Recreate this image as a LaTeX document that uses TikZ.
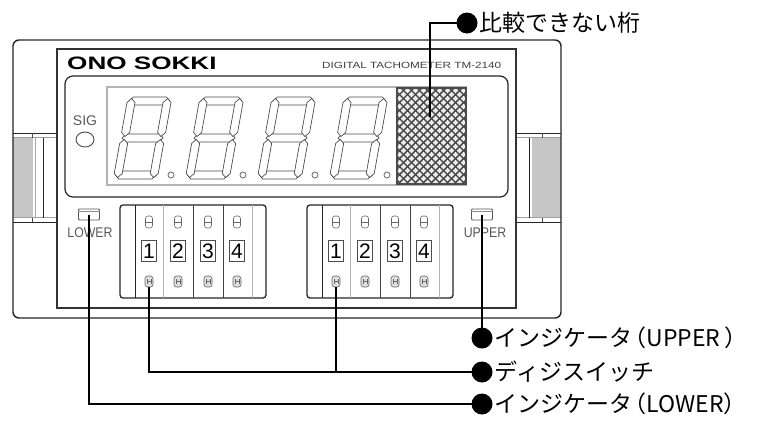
\documentclass[tikz,border=0pt]{standalone}
\usepackage{fontspec}
\setmainfont{Liberation Sans}
\newfontfamily\jpfont{Noto Sans CJK JP}
\newcommand\hseg[1]{\draw[seg] (1.5,#1) -- (5.5,#1-4) -- (38.5,#1-4) -- (42.5,#1) -- (38.5,#1+4) -- (5.5,#1+4) -- cycle;}
\newcommand\vseg[3]{\draw[seg] (#1,#2+1.5) -- (#1+4,#2+5.5) -- (#1+4,#3-5.5) -- (#1,#3-1.5) -- (#1-4,#3-5.5) -- (#1-4,#2+5.5) -- cycle;}
\newcommand\segdigit[1]{%
  \begin{scope}[shift={#1}, xslant=0.18]
    \hseg{4}\hseg{41}\hseg{78}
    \vseg{4}{0}{41}\vseg{40}{0}{41}\vseg{4}{41}{82}\vseg{40}{41}{82}
  \end{scope}}
\newcommand\thumbsw[2]{%
  \draw[line width=1.3, black!85, rounded corners=3] (#1,205) rectangle (#1+146,298);
  \foreach \dx/\c in {15/black!85, 43/gray!60, 73/black!75, 103/black!75, 132/gray!60}
    \draw[\c, line width=0.9] (#1+\dx,205) -- (#1+\dx,298);
  \foreach \k [count=\i] in {29,58,88,117} {
    \draw[black!60, line width=0.6, rounded corners=2.5] (#1+\k-3.5,216) rectangle (#1+\k+3.5,228);
    \draw[black!60, line width=0.6] (#1+\k-3.5,222) -- (#1+\k+3.5,222);
    \node[draw=black!70, line width=0.8, fill=white, minimum width=15pt, minimum height=21pt, inner sep=0pt,
          font=\fontsize{21}{21}\selectfont] (#2d\i) at (#1+\k,251) {\i};
    \draw[black!60, line width=0.6, fill=gray!25, rounded corners=2.5] (#1+\k-4,276) rectangle (#1+\k+4,287);
    \draw[black!60, line width=0.4] (#1+\k-2,279) -- (#1+\k-2,284) (#1+\k+2,279) -- (#1+\k+2,284) (#1+\k-2,281.5) -- (#1+\k+2,281.5);
  }}
\begin{document}
\begin{tikzpicture}[x=1pt,y=-1pt,
  seg/.style={draw=black!70, line width=0.7, fill=white},
  lead/.style={draw=black, line width=1.1},
  bigdot/.style={circle, fill=black, minimum size=21pt, inner sep=0pt},
  lbl/.style={font=\jpfont\fontsize{23}{23}\selectfont, anchor=west, inner sep=0pt, xshift=2pt},
  ledbox/.style={draw=black!65, line width=0.8, minimum width=21pt, minimum height=11pt, inner sep=0pt, rounded corners=1pt},
  smalltxt/.style={text=black!65, font=\fontsize{14}{14}\selectfont, inner sep=0pt}]
\useasboundingbox (0,0) rectangle (760,421);
\fill[white] (0,0) rectangle (760,421);

% side brackets
\fill[gray!45] (13,137.5) rectangle (33,217.5);
\fill[gray!45] (532,137.5) rectangle (561,217.5);
\draw[black!85, line width=1] (13,133) -- (57,133) (13,222) -- (57,222) (516,133) -- (561,133) (516,222) -- (561,222);
\draw[gray!75, line width=1] (13,137.5) -- (57,137.5) (13,217.5) -- (57,217.5) (516,137.5) -- (561,137.5) (516,217.5) -- (561,217.5);
\draw[gray!70, line width=1] (35,137.5) -- (35,217.5);
\draw[black!85, line width=1] (43,137.5) -- (43,217.5) (529,137.5) -- (529,217.5);
\draw[black!70, line width=0.8] (32,133) -- (32,137.5) (32,217.5) -- (32,222) (542,133) -- (542,137.5) (542,217.5) -- (542,222);

% case
\draw[black!85, line width=1.4, rounded corners=6] (13,40) rectangle (561,318);
\draw[black!80, line width=1.2] (57,49) rectangle (516,308);
\draw[black!85, line width=1.2, rounded corners=8] (65,76) rectangle (508,197);
\draw[gray!60, line width=1.5] (107,87) rectangle (466,185);

% logo and model
\node[anchor=west, inner sep=0pt, font=\bfseries\fontsize{18}{18}\selectfont] (logo) at (67,63) {\scalebox{1.45}[1]{ONO SOKKI}};
\node[anchor=west, inner sep=0pt, text=black!75, font=\fontsize{9}{9}\selectfont] (model) at (322,65) {\scalebox{1.3}[1]{DIGITAL TACHOMETER TM-2140}};

% SIG
\node[smalltxt] (sig) at (85,120.5) {SIG};
\draw[black!70, line width=0.9] (85,139.5) ellipse [x radius=9pt, y radius=7.5pt];

% display digits
\foreach \i in {0,1,2,3} {
  \segdigit{(128+72*\i,97)}
  \draw[black!65, line width=0.7] (171+72*\i,175) circle [radius=3pt];
}

% hatched digit
\begin{scope}
  \clip (397,88) rectangle (466,184);
  \fill[gray!15] (397,88) rectangle (466,184);
  \foreach \i in {-100,-92,...,75} {
    \draw[black!75, line width=1.4] (397+\i,88) -- ++(100,100);
    \draw[black!75, line width=1.4] (466-\i,88) -- ++(-100,100);
  }
\end{scope}
\draw[black!70, line width=1.4] (397,88) rectangle (466,184);
\coordinate (hatch) at (430,117);

% indicators
\node[ledbox] (ledL) at (89,214.5) {};
\draw[black!45, line width=0.5] ([yshift=-3pt]ledL.north west) -- ([yshift=-3pt]ledL.north east);
\node[smalltxt] (lowtxt) at (90,233) {\scalebox{0.88}[1]{LOWER}};
\node[ledbox] (ledU) at (482,214.5) {};
\draw[black!45, line width=0.5] ([yshift=-3pt]ledU.north west) -- ([yshift=-3pt]ledU.north east);
\node[smalltxt] (uptxt) at (485,233) {\scalebox{0.88}[1]{UPPER}};

% thumbwheel switches
\thumbsw{120}{L}
\thumbsw{307}{R}
\coordinate (swL) at (149,287);
\coordinate (swR) at (336,287);

% labels
\node[bigdot] (dotT) at (467,23) {};
\node[lbl] (txtT) at (dotT.east) {比較できない桁};
\node[bigdot] (dotU) at (482,338) {};
\node[lbl] (txtU) at (dotU.east) {インジケータ\kern-0.4em（UPPER\kern0.15em）};
\node[bigdot] (dotD) at (482,372) {};
\node[lbl] (txtD) at (dotD.east) {ディジスイッチ};
\node[bigdot] (dotL) at (482,404) {};
\node[lbl] (txtL) at (dotL.east) {インジケータ\kern-0.4em（LOWER）};

% leaders
\draw[lead] (hatch) |- (dotT.center);
\draw[lead] (ledU.center) -- (dotU.center);
\draw[lead] (swL) |- (dotD.center);
\draw[lead] (swR) -- (swR |- dotD.center);
\draw[lead] (ledL.center) |- (dotL.center);
\end{tikzpicture}
\end{document}
